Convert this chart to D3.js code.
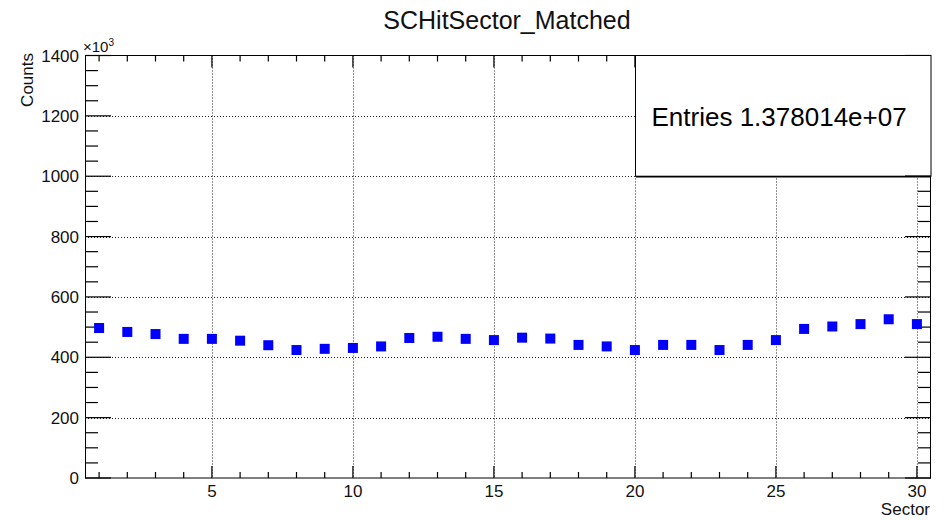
<!DOCTYPE html>
<html>
<head>
<meta charset="utf-8">
<script src="https://cdn.jsdelivr.net/npm/d3@7"></script>
<style>
  html, body { margin: 0; padding: 0; background: #fff; }
  svg { display: block; font-family: "Liberation Sans", Arial, Helvetica, sans-serif; }
</style>
</head>
<body>
<svg id="chart" width="944" height="520"></svg>
<script>
// ---- data ----
const title = "SCHitSector_Matched";
const xLabel = "Sector";
const yLabel = "Counts";
const statsText = "Entries 1.378014e+07";
const sectors = d3.range(1, 31);
// counts in units of 10^3
const counts = [497, 484, 477, 461, 461, 455, 440, 424, 428, 431,
                436, 464, 468, 461, 457, 465, 462, 441, 436, 424,
                441, 441, 424, 441, 457, 494, 502, 510, 526, 510];
const xTicks = [5, 10, 15, 20, 25, 30];
const yTicks = [0, 200, 400, 600, 800, 1000, 1200, 1400];

// ---- layout ----
const svg = d3.select("#chart");
const L = 85, R = 931, T = 55.5, B = 478;
const x = d3.scaleLinear().domain([0.5, 30.5]).range([L, R]);
const y = d3.scaleLinear().domain([0, 1400]).range([B, T]);

const ink = "#000";

// grid
const grid = svg.append("g").attr("stroke", "#222").attr("stroke-width", 1)
  .attr("stroke-dasharray", "1,2").attr("fill", "none");
grid.selectAll("line.gx").data(xTicks).join("line")
  .attr("x1", d => Math.round(x(d)) + 0.5).attr("x2", d => Math.round(x(d)) + 0.5)
  .attr("y1", T).attr("y2", B);
grid.selectAll("line.gy").data(yTicks.filter(d => d > 0 && d < 1400)).join("line")
  .attr("y1", d => Math.round(y(d)) + 0.5).attr("y2", d => Math.round(y(d)) + 0.5)
  .attr("x1", L).attr("x2", R);

// frame
svg.append("rect").attr("x", L + 0.5).attr("y", T).attr("width", R - L - 1).attr("height", B - T)
  .attr("fill", "none").attr("stroke", ink).attr("stroke-width", 1);

// ticks
const xMinor = sectors;
const yMinor = d3.range(0, 1401, 50);
const tk = svg.append("g").attr("stroke", ink).attr("stroke-width", 1.2);
// bottom
tk.selectAll("line.bx").data(xMinor).join("line")
  .attr("x1", d => x(d)).attr("x2", d => x(d))
  .attr("y1", B).attr("y2", d => B - (d % 5 === 0 ? 12 : 6));
// top
tk.selectAll("line.tx").data(xMinor).join("line")
  .attr("x1", d => x(d)).attr("x2", d => x(d))
  .attr("y1", T).attr("y2", d => T + (d % 5 === 0 ? 12 : 6));
// left
tk.selectAll("line.ly").data(yMinor).join("line")
  .attr("y1", d => y(d)).attr("y2", d => y(d))
  .attr("x1", L).attr("x2", d => L + (d % 200 === 0 ? 26 : 13));
// right
tk.selectAll("line.ry").data(yMinor).join("line")
  .attr("y1", d => y(d)).attr("y2", d => y(d))
  .attr("x1", R).attr("x2", d => R - (d % 200 === 0 ? 26 : 13));

// tick labels
svg.append("g").selectAll("text").data(xTicks).join("text")
  .attr("x", d => x(d)).attr("y", 497).attr("text-anchor", "middle")
  .attr("font-size", 17).attr("fill", "#111").text(d => d);
svg.append("g").selectAll("text").data(yTicks).join("text")
  .attr("x", 79).attr("y", d => y(d) + 6).attr("text-anchor", "end")
  .attr("font-size", 17).attr("fill", "#111").text(d => d);

// exponent
const ex = svg.append("text").attr("x", 83).attr("y", 52).attr("font-size", 15).attr("fill", "#111");
ex.append("tspan").text("\u00d710");
ex.append("tspan").attr("dy", -6).attr("font-size", 10).text("3");

// axis titles
svg.append("text").attr("transform", "translate(33,53) rotate(-90)")
  .attr("text-anchor", "end").attr("font-size", 17).attr("fill", "#111").text(yLabel);
svg.append("text").attr("x", 930).attr("y", 515).attr("text-anchor", "end")
  .attr("font-size", 17).attr("fill", "#111").text(xLabel);

// title
svg.append("text").attr("x", 507).attr("y", 29).attr("text-anchor", "middle")
  .attr("font-size", 25).attr("fill", "#111").text(title);

// markers
svg.append("g").selectAll("rect").data(sectors).join("rect")
  .attr("x", (d, i) => x(d) - 5).attr("y", (d, i) => y(counts[i]) - 5)
  .attr("width", 10).attr("height", 10).attr("fill", "#0000ff");

// stats box
svg.append("rect").attr("x", 635.5).attr("y", T).attr("width", R - 635.5).attr("height", y(1000) - T)
  .attr("fill", "#fff").attr("stroke", ink).attr("stroke-width", 1);
svg.append("line").attr("x1", 636).attr("x2", R).attr("y1", y(1000) + 0.5).attr("y2", y(1000) + 0.5)
  .attr("stroke", ink).attr("stroke-width", 1.5);
svg.append("line").attr("x1", R - 26).attr("x2", R).attr("y1", y(1000)).attr("y2", y(1000))
  .attr("stroke", ink).attr("stroke-width", 1.5);
svg.append("text").attr("x", 651.5).attr("y", 126).attr("font-size", 26).attr("fill", "#000").text(statsText);
</script>
</body>
</html>
